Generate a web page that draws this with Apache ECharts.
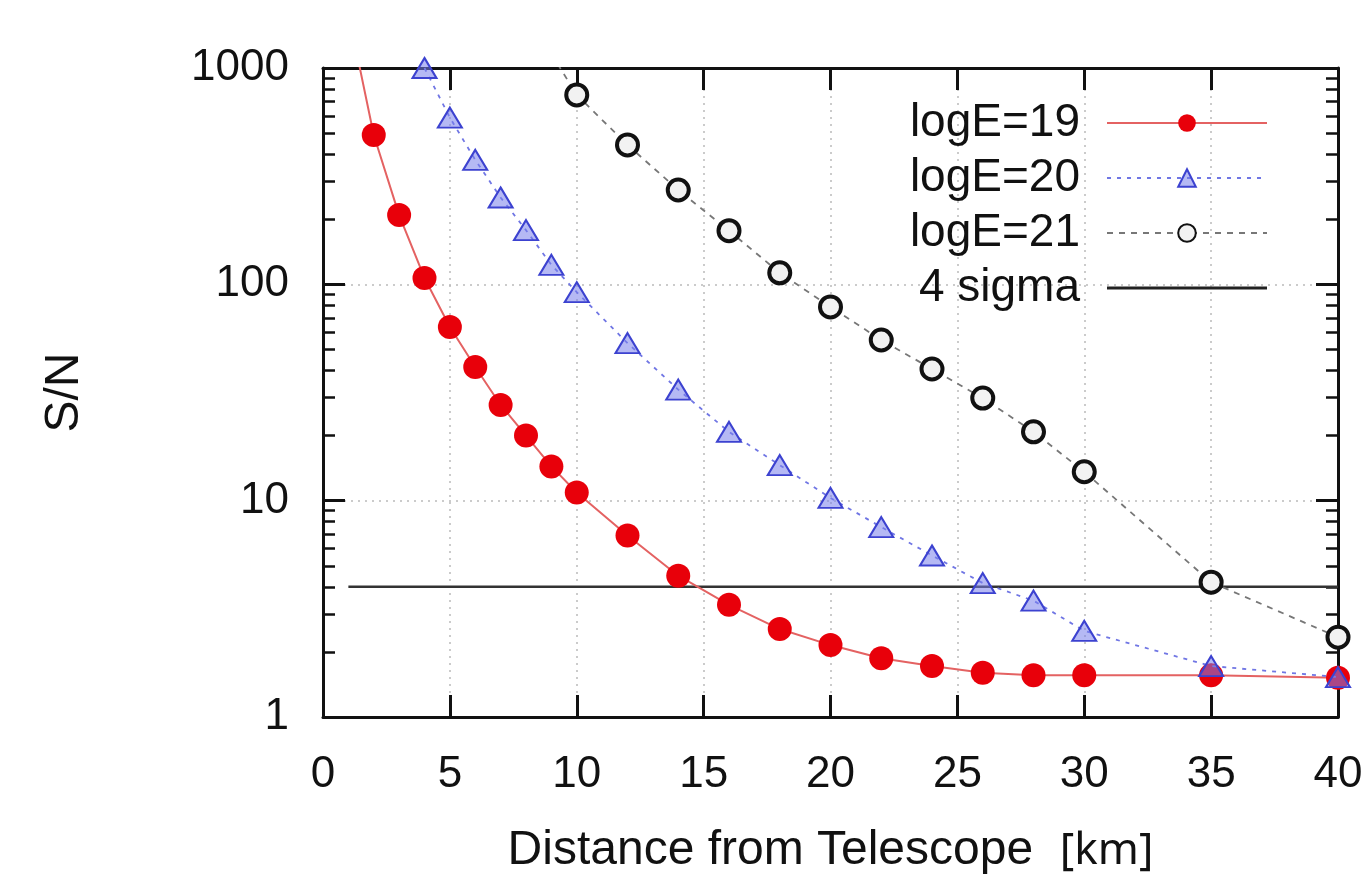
<!DOCTYPE html>
<html>
<head>
<meta charset="utf-8">
<script src="https://cdn.jsdelivr.net/npm/echarts@6/dist/echarts.min.js"></script>
<style>
  html, body { margin: 0; padding: 0; background: #fff; }
  #chart { width: 1369px; height: 874px; }
</style>
</head>
<body>
<div id="chart"></div>
<script>
// distances in km
const xE19 = [1, 2, 3, 4, 5, 6, 7, 8, 9, 10, 12, 14, 16, 18, 20, 22, 24, 26, 28, 30, 35, 40]
const snE19 = [1800, 490, 209, 107, 63.5, 41.5, 27.7, 20, 14.4, 10.9, 6.9, 4.5, 3.3, 2.55, 2.15, 1.87, 1.72, 1.6, 1.56, 1.56, 1.56, 1.52]

const xE20 = [4, 5, 6, 7, 8, 9, 10, 12, 14, 16, 18, 20, 22, 24, 26, 28, 30, 35, 40]
const snE20 = [1000, 590, 376, 252, 178, 123, 92, 53.5, 32.6, 20.8, 14.6, 10.3, 7.55, 5.58, 4.16, 3.45, 2.5, 1.72, 1.53]

const xE21 = [8, 10, 12, 14, 16, 18, 20, 22, 24, 26, 28, 30, 35, 40]
const snE21 = [1800, 751, 441, 273, 177, 113, 78.6, 55.3, 40.6, 29.8, 20.8, 13.6, 4.2, 2.34]

const sigmaX = [1, 40]
const sigmaY = [4, 4]

const names = ['logE=19', 'logE=20', 'logE=21', '4 sigma']

const pairs = (xs, ys) => xs.map((x, i) => [x, ys[i]])

const chart = echarts.init(document.getElementById('chart'))

const frame = { show: true, onZero: false, lineStyle: { color: '#111', width: 3 } }
const grid = { show: true, lineStyle: { color: '#bbb', type: [2, 5], width: 1.5 } }
const font = 'Liberation Sans, Arial, sans-serif'
const majorTick = { inside: true, length: 22, lineStyle: { color: '#111', width: 3 } }
const minorTick = { show: true, splitNumber: 9, length: 12, lineStyle: { color: '#111', width: 2.5 } }

chart.setOption({
  animation: false,
  grid: { left: 323, right: 31, top: 68, bottom: 157, outerBoundsMode: 'none', containLabel: false },
  legend: {
    orient: 'vertical',
    align: 'right',
    right: 96,
    top: 95,
    itemWidth: 160,
    itemHeight: 22,
    itemGap: 9,
    data: names.slice(0, 3).concat([{ name: names[3], icon: 'path://M0,0H160V3H0Z', itemStyle: { color: '#222' } }]),
    textStyle: {
      fontFamily: font,
      fontSize: 46,
      lineHeight: 46,
      color: '#111',
      padding: [0, 22, 0, 0]
    }
  },
  xAxis: [
    {
      type: 'value',
      min: 0,
      max: 40,
      interval: 5,
      name: 'Distance from Telescope  {k|[km]}',
      nameLocation: 'middle',
      nameGap: 110,
      nameTextStyle: {
        fontFamily: font,
        fontSize: 48,
        color: '#111',
        rich: { k: { fontFamily: 'Noto Sans', fontSize: 44, color: '#111' } }
      },
      axisLine: frame,
      axisTick: majorTick,
      axisLabel: { fontFamily: font, fontSize: 44, color: '#111', margin: 36 },
      splitLine: grid
    },
    {
      type: 'value',
      position: 'top',
      min: 0,
      max: 40,
      interval: 5,
      axisLine: frame,
      axisTick: majorTick,
      axisLabel: { show: false },
      splitLine: { show: false }
    }
  ],
  yAxis: [
    {
      type: 'log',
      logBase: 10,
      min: 1,
      max: 1000,
      name: 'S/N',
      nameLocation: 'middle',
      nameGap: 234,
      nameTextStyle: { fontFamily: font, fontSize: 48, color: '#111' },
      axisLine: frame,
      axisTick: majorTick,
      minorTick: minorTick,
      axisLabel: { fontFamily: font, fontSize: 44, color: '#111', margin: 34, formatter: v => String(v) },
      splitLine: grid
    },
    {
      type: 'log',
      logBase: 10,
      min: 1,
      max: 1000,
      position: 'right',
      axisLine: frame,
      axisTick: majorTick,
      minorTick: minorTick,
      axisLabel: { show: false },
      splitLine: { show: false }
    }
  ],
  series: [
    {
      name: names[0],
      type: 'line',
      data: pairs(xE19, snE19),
      symbol: 'circle',
      symbolSize: 24,
      itemStyle: { color: '#e8000a' },
      lineStyle: { color: '#e46262', width: 2 },
      z: 3
    },
    {
      name: names[1],
      type: 'line',
      data: pairs(xE20, snE20),
      symbol: 'triangle',
      symbolSize: [24, 20],
      itemStyle: { color: 'rgba(120,128,235,0.55)', borderColor: '#3c42d0', borderWidth: 2 },
      lineStyle: { color: '#7076e4', width: 1.8, type: [4, 6] },
      z: 4
    },
    {
      name: names[2],
      type: 'line',
      data: pairs(xE21, snE21),
      symbol: 'circle',
      symbolSize: 21,
      itemStyle: { color: '#f2f2f2', borderColor: '#111', borderWidth: 4 },
      lineStyle: { color: '#777', width: 1.8, type: [6, 6] },
      z: 5
    },
    {
      name: names[3],
      type: 'line',
      data: pairs(sigmaX, sigmaY),
      symbol: 'none',
      itemStyle: { color: '#333' },
      lineStyle: { color: '#333', width: 2.5 },
      z: 2
    }
  ]
})
</script>
</body>
</html>
